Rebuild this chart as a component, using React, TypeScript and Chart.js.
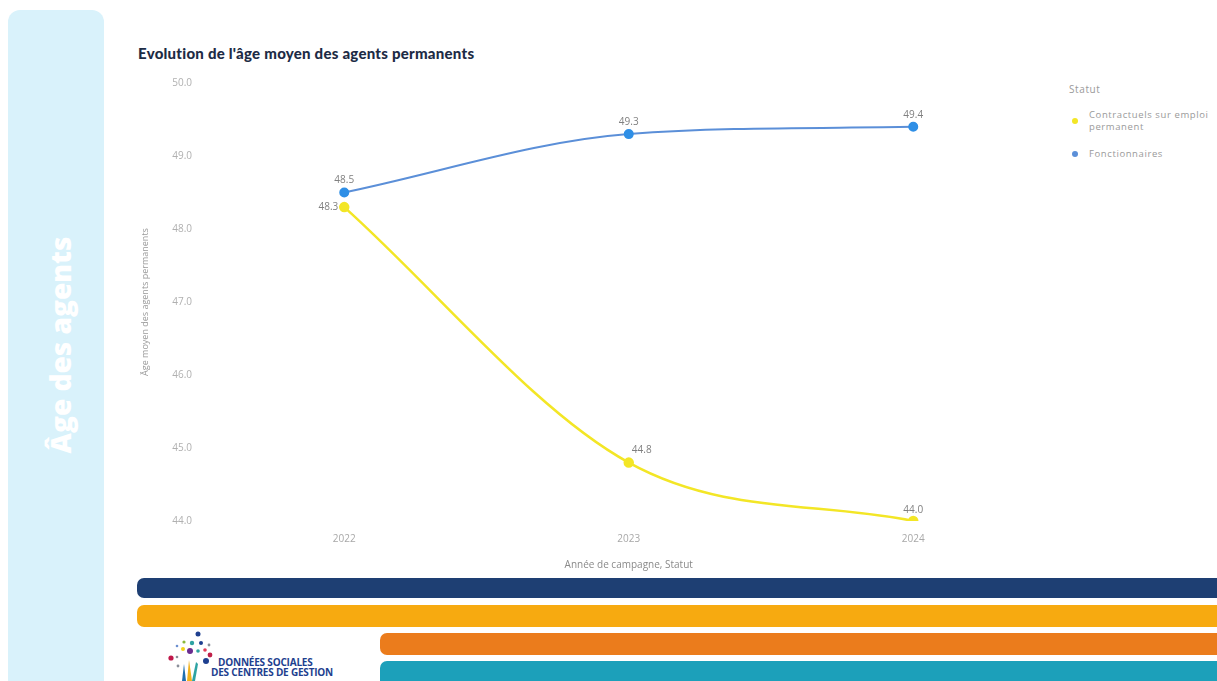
import React, { useEffect, useRef } from "react";
import { Chart, registerables } from "chart.js";

Chart.register(...registerables);

const TITLE = "Evolution de l'âge moyen des agents permanents";
const years = ["2022", "2023", "2024"];
const contractuels = [48.3, 44.8, 44.0];
const fonctionnaires = [48.5, 49.3, 49.4];
const seriesNames = ["Contractuels sur emploi permanent", "Fonctionnaires"];
const yTicks = [44, 45, 46, 47, 48, 49, 50];
const yTitle = "Âge moyen des agents permanents";
const xTitle = "Année de campagne, Statut";
const legendTitle = "Statut";

const YELLOW = "#f3e626";
const BLUE_LINE = "#5b8fd8";
const BLUE_PT = "#2f8fe6";

const labelPlugin = {
  id: "valueLabels",
  afterDatasetsDraw(chart: any) {
    const ctx = chart.ctx;
    ctx.save();
    ctx.font = "10px 'Open Sans', sans-serif";
    ctx.fillStyle = "#808080";
    chart.data.datasets.forEach((ds: any, di: number) => {
      const meta = chart.getDatasetMeta(di);
      meta.data.forEach((pt: any, i: number) => {
        const v = (ds.data[i] as number).toFixed(1);
        let x = pt.x;
        let y = pt.y - 12;
        ctx.textAlign = "center";
        ctx.textBaseline = "middle";
        if (di === 0 && i === 0) {
          x = pt.x - 6;
          y = pt.y;
          ctx.textAlign = "right";
        } else if (di === 0 && i === 1) {
          x = pt.x + 13;
          y = pt.y - 12;
        } else if (di === 0 && i === 2) {
          y = pt.y - 11;
        }
        ctx.fillText(v, x, y);
      });
    });
    ctx.restore();
  },
};

function LineChart() {
  const ref = useRef<HTMLCanvasElement | null>(null);
  useEffect(() => {
    if (!ref.current) return;
    const chart = new Chart(ref.current, {
      type: "line",
      data: {
        labels: years,
        datasets: [
          {
            label: seriesNames[0],
            data: contractuels,
            borderColor: YELLOW,
            backgroundColor: YELLOW,
            pointBackgroundColor: YELLOW,
            pointBorderColor: YELLOW,
            borderWidth: 2.5,
            pointRadius: 4,
            cubicInterpolationMode: "monotone",
          },
          {
            label: seriesNames[1],
            data: fonctionnaires,
            borderColor: BLUE_LINE,
            backgroundColor: BLUE_PT,
            pointBackgroundColor: BLUE_PT,
            pointBorderColor: BLUE_PT,
            borderWidth: 2,
            pointRadius: 4,
            cubicInterpolationMode: "monotone",
          },
        ],
      },
      options: {
        animation: false,
        responsive: false,
        maintainAspectRatio: false,
        layout: { padding: { top: 10, right: 0, bottom: 0, left: 0 } },
        plugins: { legend: { display: false }, tooltip: { enabled: false } },
        scales: {
          x: {
            offset: true,
            grid: { display: false, drawTicks: false },
            border: { display: false },
            ticks: {
              color: "#a8a8a8",
              padding: 12,
              font: { family: "'Open Sans', sans-serif", size: 10 },
            },
            title: {
              display: true,
              text: xTitle,
              color: "#8a8a8a",
              font: { family: "'Open Sans', sans-serif", size: 10 },
              padding: { top: 6, bottom: 0 },
            },
            afterFit: (s: any) => {
              s.height = 50;
            },
          },
          y: {
            min: 44,
            max: 50,
            afterBuildTicks: (s: any) => {
              s.ticks = yTicks.map((v) => ({ value: v }));
            },
            grid: { display: false, drawTicks: false },
            border: { display: false },
            ticks: {
              color: "#b0b0b0",
              padding: 10,
              font: { family: "'Open Sans', sans-serif", size: 10 },
              callback: (v: any) => Number(v).toFixed(1),
            },
            title: {
              display: true,
              text: yTitle,
              color: "#9a9a9a",
              font: { family: "'Open Sans', sans-serif", size: 9 },
              padding: { top: 0, bottom: 0 },
            },
            afterFit: (s: any) => {
              s.width = 62;
            },
          },
        },
      },
      plugins: [labelPlugin],
    });
    return () => chart.destroy();
  }, []);
  return (
    <canvas
      ref={ref}
      width={922}
      height={504}
      style={{ position: "absolute", left: 140, top: 67, width: 922, height: 504 }}
    />
  );
}

const abs = (o: any) => ({ position: "absolute" as const, ...o });

export default function App() {
  const legendText = {
    fontFamily: "'Open Sans', sans-serif",
    fontSize: 9.5,
    color: "#9a9a9a",
    letterSpacing: 0.6,
    lineHeight: "12px",
  };
  return (
    <div style={abs({ left: 0, top: 0, width: 1217, height: 681, overflow: "hidden", background: "#fff" })}>
      {/* Left side panel */}
      <div
        style={abs({
          left: 8,
          top: 10,
          width: 96,
          height: 690,
          borderRadius: 12,
          background: "#d9f2fb",
        })}
      />
      <div
        style={abs({
          left: 60,
          top: 345,
          transform: "translate(-50%, -50%) rotate(-90deg)",
          whiteSpace: "nowrap",
          color: "#ffffff",
          fontFamily: "'Open Sans', sans-serif",
          fontWeight: 800,
          fontSize: 28,
        })}
      >
        Âge des agents
      </div>

      {/* Title */}
      <div
        style={abs({
          left: 138,
          top: 44,
          color: "#1d2b45",
          fontFamily: "Lato, sans-serif",
          fontWeight: 900,
          fontSize: 15,
          letterSpacing: 0.25,
          whiteSpace: "nowrap",
        })}
      >
        {TITLE}
      </div>

      <LineChart />

      {/* Legend */}
      <div style={abs({ left: 1069, top: 83, ...legendText, fontSize: 10 })}>{legendTitle}</div>
      <div style={abs({ left: 1072, top: 118, width: 6, height: 6, borderRadius: 3, background: YELLOW })} />
      <div style={abs({ left: 1089, top: 109, width: 128, ...legendText })}>{seriesNames[0]}</div>
      <div style={abs({ left: 1072, top: 151, width: 6, height: 6, borderRadius: 3, background: BLUE_LINE })} />
      <div style={abs({ left: 1089, top: 148, ...legendText, whiteSpace: "nowrap" })}>{seriesNames[1]}</div>

      {/* Bottom bars */}
      <div style={abs({ left: 137, top: 578, width: 1100, height: 20, borderRadius: 7, background: "#1e3f73" })} />
      <div style={abs({ left: 137, top: 605, width: 1100, height: 22, borderRadius: 7, background: "#f7aa10" })} />
      <div style={abs({ left: 380, top: 633, width: 860, height: 22, borderRadius: 7, background: "#eb7c1c" })} />
      <div style={abs({ left: 380, top: 661, width: 860, height: 30, borderRadius: 7, background: "#1ca0ba" })} />

      {/* Logo */}
      <svg style={abs({ left: 160, top: 628, width: 60, height: 53 })} viewBox="0 0 60 53">
        <circle cx="38" cy="6" r="2.5" fill="#1e3f8f" />
        <circle cx="24" cy="14" r="1.6" fill="#8bb83a" />
        <circle cx="32" cy="15" r="2.2" fill="#2ea3a3" />
        <circle cx="41" cy="15" r="2" fill="#1e3f8f" />
        <circle cx="49" cy="17" r="1.4" fill="#8a8f99" />
        <circle cx="17" cy="18" r="1.3" fill="#6b8fd0" />
        <circle cx="23" cy="21" r="2" fill="#f2d21b" />
        <circle cx="30" cy="23" r="3" fill="#6a2c8f" />
        <circle cx="38" cy="23" r="1.8" fill="#2ea3a3" />
        <circle cx="45" cy="22" r="1.8" fill="#e23d59" />
        <circle cx="50" cy="27" r="2.4" fill="#c02049" />
        <circle cx="11" cy="30" r="2.6" fill="#c0184a" />
        <circle cx="17" cy="29" r="1.3" fill="#8a8f99" />
        <circle cx="46" cy="33" r="3" fill="#1e3f8f" />
        <circle cx="18" cy="38" r="1.4" fill="#8a8f99" />
        <path d="M22 53 L24 36 L26 53 Z" fill="#1e6fb0" />
        <path d="M27 53 L29 32 L32 53 Z" fill="#f2b21b" />
        <path d="M32 53 L36 34 L38 36 L35 53 Z" fill="#2ea3a3" />
      </svg>
      <div
        style={abs({
          left: 211,
          top: 657,
          color: "#1e3f8f",
          fontFamily: "'Liberation Sans Narrow', 'Open Sans', sans-serif",
          fontWeight: 700,
          fontSize: 10,
          lineHeight: "10px",
          whiteSpace: "nowrap",
          letterSpacing: -0.2,
        })}
      >
        <div style={{ marginLeft: 7 }}>DONNÉES SOCIALES</div>
        <div>DES CENTRES DE GESTION</div>
      </div>
    </div>
  );
}
